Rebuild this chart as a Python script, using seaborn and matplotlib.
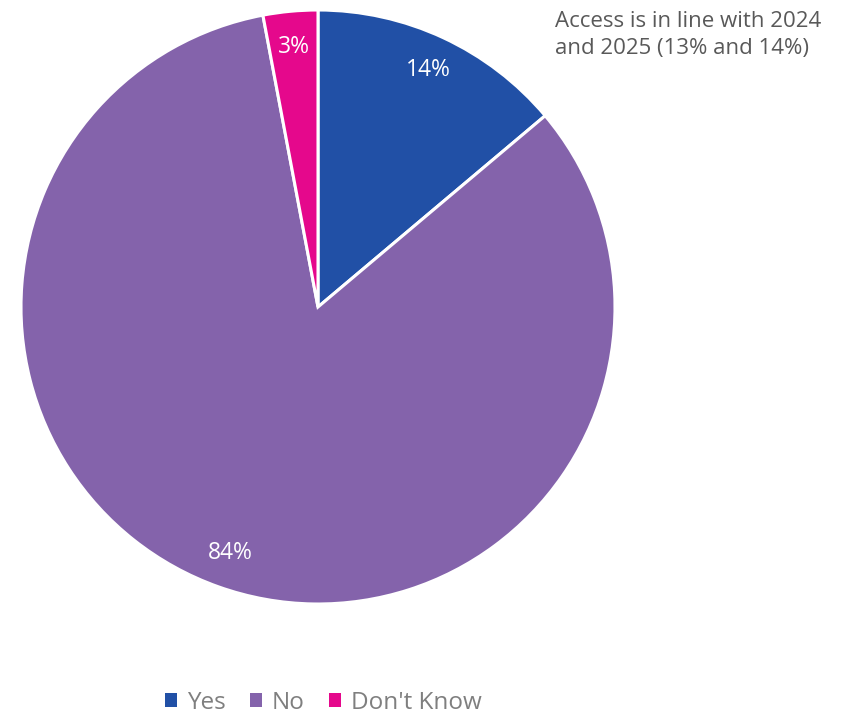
import numpy as np
import matplotlib
matplotlib.use("Agg")
import matplotlib.pyplot as plt
from matplotlib.patches import Patch
import seaborn as sns

categories = ["Yes", "No", "Don't Know"]
values = [14, 84, 3]
colors = ["#2150A6", "#8463AB", "#E5088C"]
note = "Access is in line with 2024\nand 2025 (13% and 14%)"

sns.set_theme(style="white")
plt.rcParams["font.family"] = ["Open Sans", "DejaVu Sans"]

W, H = 849, 716
fig = plt.figure(figsize=(W / 100, H / 100), dpi=100)
fig.patch.set_facecolor("white")

cx, cy, r = 318, 307, 297
ax = fig.add_axes([(cx - r) / W, (H - cy - r) / H, 2 * r / W, 2 * r / H])
palette = sns.color_palette(colors)

wedges, texts = ax.pie(
    values,
    colors=palette,
    startangle=90,
    counterclock=False,
    labels=[f"{v}%" for v in values],
    labeldistance=0.88,
    wedgeprops=dict(edgecolor="white", linewidth=2.2),
    textprops=dict(color="white", fontsize=16.5),
)
for t in texts:
    t.set_ha("center")
    t.set_va("center")
ax.set_aspect("equal")
ax.set_xlim(-1, 1)
ax.set_ylim(-1, 1)

fig.text(555 / W, 1 - 11 / H, note, ha="left", va="top", fontsize=16,
         color="#595959", linespacing=1.4)

handles = [Patch(facecolor=c, edgecolor="none", label=l) for c, l in zip(palette, categories)]
leg = fig.legend(handles=handles, loc="center", bbox_to_anchor=(323 / W, 1 - 703 / H),
                 ncol=3, frameon=False, fontsize=17.5, handlelength=0.5, handleheight=0.5,
                 handletextpad=0.4, columnspacing=1.0)
for t in leg.get_texts():
    t.set_color("#7F7F7F")

fig.savefig("out.png", dpi=100, facecolor="white")
